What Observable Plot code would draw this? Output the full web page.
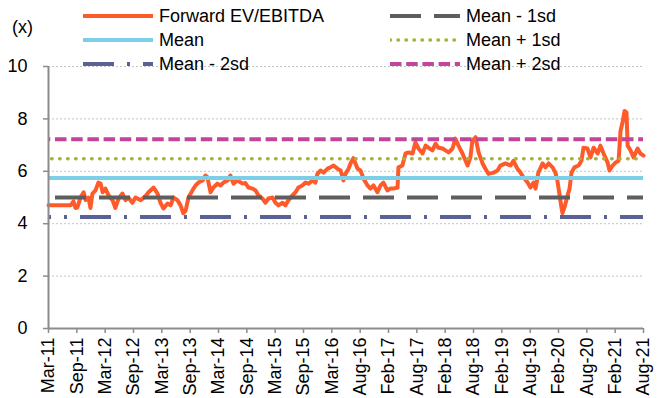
<!DOCTYPE html>
<html>
<head>
<meta charset="utf-8">
<script src="https://cdn.jsdelivr.net/npm/d3@7"></script>
<script src="https://cdn.jsdelivr.net/npm/@observablehq/plot@0.6"></script>
<style>
  body { margin: 0; background: #fff; }
  #wrap { position: relative; width: 661px; height: 398px; font-family: "Liberation Sans", Arial, sans-serif; }
  #legend { position: absolute; left: 0; top: 0; width: 661px; height: 80px; pointer-events: none; }
  .item { position: absolute; display: flex; align-items: center; height: 20px; font-size: 18px; color: #000; white-space: nowrap; }
  .item svg { margin-right: 6px; }
  #unit { position: absolute; left: 12px; top: 17px; font-size: 18px; line-height: 20px; }
  svg g[aria-label$="tick label"] { fill: #000; }
</style>
</head>
<body>
<div id="wrap">
  <div id="chart"></div>
  <div id="legend"><div id="unit">(x)</div></div>
</div>
<script>
// Tick labels (one every half-year step on the index axis)
const tickLabels = ["Mar-11","Sep-11","Mar-12","Sep-12","Mar-13","Sep-13","Mar-14","Sep-14","Mar-15","Sep-15","Mar-16","Aug-16","Feb-17","Aug-17","Feb-18","Aug-18","Feb-19","Aug-19","Feb-20","Aug-20","Feb-21","Aug-21"];

// Position along the axis, in tick steps (0 = Mar-11, 21 = Aug-21)
const t = [0,0.42,0.78,0.88,0.95,1.02,1.13,1.24,1.31,1.41,
1.48,1.55,1.66,1.76,1.84,1.91,2.01,2.12,2.26,2.36,
2.47,2.61,2.72,2.82,2.96,3.07,3.25,3.42,3.53,3.71,
3.85,3.95,4.06,4.20,4.31,4.41,4.55,4.66,4.76,4.84,
4.94,5.08,5.19,5.29,5.44,5.54,5.61,5.72,5.82,5.96,
6.07,6.18,6.32,6.42,6.53,6.67,6.85,6.95,7.06,7.20,
7.31,7.41,7.55,7.66,7.76,7.91,8.01,8.12,8.26,8.36,
8.47,8.61,8.72,8.82,8.96,9.07,9.18,9.32,9.42,9.49,
9.60,9.71,9.85,9.95,10.06,10.20,10.31,10.41,10.48,10.59,
10.66,10.76,10.91,11.01,11.12,11.26,11.36,11.47,11.61,11.72,
11.82,11.96,12.07,12.18,12.32,12.35,12.49,12.60,12.71,12.85,
12.95,13.06,13.20,13.31,13.41,13.55,13.66,13.76,13.91,14.01,
14.12,14.26,14.36,14.47,14.61,14.72,14.79,14.89,14.96,15.07,
15.18,15.32,15.42,15.53,15.71,15.85,15.95,16.13,16.31,16.41,
16.55,16.66,16.76,16.91,17.01,17.12,17.19,17.29,17.44,17.54,
17.65,17.79,17.89,17.96,18.04,18.11,18.14,18.21,18.32,18.39,
18.46,18.56,18.71,18.81,18.88,19.02,19.13,19.24,19.38,19.48,
19.59,19.73,19.80,19.91,20.02,20.12,20.19,20.26,20.33,20.40,
20.44,20.54,20.65,20.79,20.89,21.0];

// Forward EV/EBITDA (x)
const fwd = [4.7,4.7,4.7,4.85,4.6,4.62,5.0,5.2,4.9,5.0,
4.6,5.15,5.27,5.57,5.53,5.2,5.34,5.08,4.9,4.6,
4.95,5.15,4.9,5.0,4.8,5.0,4.9,5.05,5.2,5.38,
5.15,4.8,4.58,4.77,4.7,5.0,4.9,4.7,4.4,4.5,
5.0,5.27,5.46,5.57,5.65,5.84,5.77,5.2,5.38,5.53,
5.46,5.57,5.65,5.84,5.53,5.65,5.53,5.55,5.38,5.34,
5.27,5.08,4.96,4.8,4.96,5.0,4.8,4.7,4.8,4.7,
4.9,5.08,5.2,5.38,5.46,5.57,5.53,5.65,5.57,5.9,
6.03,5.95,6.1,6.15,6.22,6.1,6.03,5.65,5.9,6.1,
6.3,6.5,6.1,6.03,5.72,5.46,5.34,5.46,5.2,5.46,
5.57,5.27,5.34,5.34,5.38,6.15,6.22,6.68,6.72,6.68,
7.1,6.87,6.68,6.98,6.9,6.8,7.05,6.9,6.87,6.8,
6.72,6.87,7.25,6.98,6.68,6.4,6.22,6.53,7.17,7.3,
6.72,6.3,6.1,5.9,5.95,6.03,6.22,6.3,6.22,6.4,
6.1,5.95,5.77,5.57,5.38,5.57,5.34,5.95,6.3,6.15,
6.3,6.15,5.95,5.65,5.08,4.58,4.4,4.62,5.08,5.34,
5.95,6.15,6.22,6.4,6.9,6.87,6.53,6.9,6.68,6.98,
6.68,6.34,6.03,6.22,6.34,6.4,7.55,7.86,8.3,8.25,
6.98,6.8,6.53,6.87,6.68,6.6];

// Reference levels, in legend order
const bandNames = ["Mean - 1sd", "Mean", "Mean + 1sd", "Mean - 2sd", "Mean + 2sd"];
const bandValues = [5.0, 5.74, 6.48, 4.26, 7.22];
const yTicks = [0, 2, 4, 6, 8, 10];

const styles = {
  "Forward EV/EBITDA": {stroke: "#FF5A2A", strokeWidth: 4, dash: null, offset: 0, cap: "round"},
  "Mean - 1sd": {stroke: "#5E5E5E", strokeWidth: 4, dash: "31,13", offset: 37, cap: "butt"},
  "Mean": {stroke: "#7CCFE6", strokeWidth: 4, dash: null, offset: 0, cap: "butt"},
  "Mean + 1sd": {stroke: "#A9B23A", strokeWidth: 3.5, dash: "0.5,7.5", offset: 4.4, cap: "round"},
  "Mean - 2sd": {stroke: "#5A6198", strokeWidth: 4, dash: "31,13,3,13", offset: 28, cap: "butt"},
  "Mean + 2sd": {stroke: "#C2449B", strokeWidth: 4, dash: "11.5,4.7", offset: 9.2, cap: "butt"}
};

const series = t.map((ti, i) => ({t: ti, v: fwd[i]}));
const bands = bandNames.map((name, i) => ({name, v: bandValues[i]}));

const fs = styles["Forward EV/EBITDA"];
const marks = [
  Plot.gridY(yTicks.filter(d => d > 0), {stroke: "#c4c4c4", strokeOpacity: 1, strokeDasharray: "2,2"}),
  Plot.line(series, {x: "t", y: "v", stroke: fs.stroke, strokeWidth: fs.strokeWidth, strokeLinejoin: "round", strokeLinecap: "round"})
];
for (const b of bands) {
  const s = styles[b.name];
  marks.push(Plot.ruleY([b], {
    y: "v", x1: 0, x2: 21,
    stroke: s.stroke, strokeWidth: s.strokeWidth,
    strokeDasharray: s.dash || undefined, strokeDashoffset: s.offset, strokeLinecap: s.cap
  }));
}
marks.push(
  Plot.ruleX([0], {y1: 0, y2: 10, stroke: "#8c8c8c", strokeWidth: 2}),
  Plot.ruleY([0], {x1: 0, x2: 21, stroke: "#8c8c8c", strokeWidth: 2}),
  Plot.axisY({ticks: yTicks, tickSize: 5, tickPadding: 16, stroke: "#8c8c8c", strokeWidth: 1.5, fill: "#000", label: null}),
  Plot.axisX({ticks: d3.range(tickLabels.length), tickFormat: i => tickLabels[i], tickRotate: -90, tickSize: 5, tickPadding: 4, stroke: "#8c8c8c", strokeWidth: 1.5, fill: "#000", label: null})
);

const chart = Plot.plot({
  width: 661, height: 398,
  marginTop: 66, marginBottom: 70, marginLeft: 48, marginRight: 18,
  x: {domain: [0, 21], axis: null},
  y: {domain: [0, 10], axis: null},
  style: {fontFamily: "'Liberation Sans', Arial, sans-serif", fontSize: "18px", background: "#fff", color: "#000"},
  marks
});
document.getElementById("chart").appendChild(chart);

// Legend (Excel order: row-wise, two columns)
const legendNames = ["Forward EV/EBITDA", "Mean - 1sd", "Mean", "Mean + 1sd", "Mean - 2sd", "Mean + 2sd"];
const colLeft = [83, 390];
const rowTop = [6, 30, 54];
const legend = document.getElementById("legend");
legendNames.forEach((name, i) => {
  const s = styles[name];
  const div = document.createElement("div");
  div.className = "item";
  div.style.left = colLeft[i % 2] + "px";
  div.style.top = rowTop[Math.floor(i / 2)] + "px";
  const ns = "http://www.w3.org/2000/svg";
  const svg = document.createElementNS(ns, "svg");
  svg.setAttribute("width", 70); svg.setAttribute("height", 8);
  const ln = document.createElementNS(ns, "line");
  ln.setAttribute("x1", 0); ln.setAttribute("x2", 70);
  ln.setAttribute("y1", 4); ln.setAttribute("y2", 4);
  ln.setAttribute("stroke", s.stroke);
  ln.setAttribute("stroke-width", s.strokeWidth);
  ln.setAttribute("stroke-linecap", s.cap);
  if (s.dash) ln.setAttribute("stroke-dasharray", s.dash);
  svg.appendChild(ln);
  div.appendChild(svg);
  const span = document.createElement("span");
  span.textContent = name;
  div.appendChild(span);
  legend.appendChild(div);
});
</script>
</body>
</html>
